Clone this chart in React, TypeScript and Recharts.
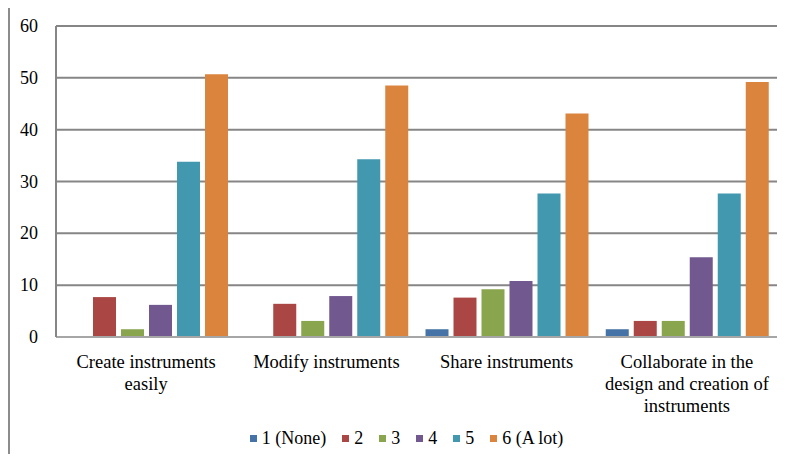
import React from 'react';
import {
  BarChart,
  Bar,
  XAxis,
  YAxis,
  CartesianGrid,
  Legend,
} from 'recharts';

const categories = [
  'Create instruments easily',
  'Modify instruments',
  'Share instruments',
  'Collaborate in the design and creation of instruments',
];

// how each category label wraps under the axis
const categoryLines = [
  ['Create instruments', 'easily'],
  ['Modify instruments'],
  ['Share instruments'],
  ['Collaborate in the', 'design and creation of', 'instruments'],
];

const seriesNames = ['1 (None)', '2', '3', '4', '5', '6 (A lot)'];
const seriesColors = ['#4572A7', '#AA4643', '#89A54E', '#71588F', '#4198AF', '#DB843D'];

const none1 = [0, 0, 1.5, 1.5];
const val2 = [7.7, 6.4, 7.6, 3.1];
const val3 = [1.5, 3.1, 9.2, 3.1];
const val4 = [6.2, 7.9, 10.8, 15.4];
const val5 = [33.8, 34.3, 27.7, 27.7];
const alot6 = [50.7, 48.5, 43.1, 49.2];

const yTicks = [0, 10, 20, 30, 40, 50, 60];

const seriesValues = [none1, val2, val3, val4, val5, alot6];

const data = categories.map((name, i) => {
  const row: Record<string, string | number> = { name };
  seriesNames.forEach((s, k) => {
    row[s] = seriesValues[k][i];
  });
  return row;
});

const FONT = 'Liberation Serif';

function CategoryTick(props: any) {
  const { x, y, payload } = props;
  const idx = categories.indexOf(payload.value);
  const lines = idx >= 0 ? categoryLines[idx] : [payload.value];
  return (
    <text x={x} y={y} textAnchor="middle" fontFamily={FONT} fontSize={18.5} fill="#000">
      {lines.map((l: string, i: number) => (
        <tspan key={i} x={x} dy={i === 0 ? 23 : 22}>
          {l}
        </tspan>
      ))}
    </text>
  );
}

function ValueTick(props: any) {
  const { x, y, payload } = props;
  return (
    <text x={x} y={y} dy={6} textAnchor="end" fontFamily={FONT} fontSize={18} fill="#000">
      {payload.value}
    </text>
  );
}

function LegendRow() {
  return (
    <div
      style={{
        display: 'flex',
        justifyContent: 'center',
        alignItems: 'center',
        fontFamily: FONT,
        fontSize: 18,
        color: '#000',
      }}
    >
      {seriesNames.map((s, k) => (
        <span
          key={s}
          style={{
            display: 'inline-flex',
            alignItems: 'center',
            marginRight: k === seriesNames.length - 1 ? 0 : 16,
          }}
        >
          <span
            style={{
              display: 'inline-block',
              width: 7,
              height: 7,
              background: seriesColors[k],
              marginRight: 5,
            }}
          />
          {s}
        </span>
      ))}
    </div>
  );
}

export default function App() {
  return (
    <div
      style={{
        margin: -8,
        width: 785,
        height: 462,
        position: 'relative',
        overflow: 'hidden',
        background: '#fff',
        fontFamily: FONT,
      }}
    >
      <div
        style={{
          position: 'absolute',
          left: 8,
          top: 5,
          width: 800,
          height: 500,
          border: '2px solid #8c8c8c',
          boxSizing: 'border-box',
        }}
      />
      <div style={{ position: 'absolute', left: 0, top: 0 }}>
        <BarChart
          width={785}
          height={462}
          data={data}
          margin={{ top: 26, right: 8, bottom: 0, left: 0 }}
          barCategoryGap={9}
          barGap={5}
        >
          <CartesianGrid vertical={false} stroke="#868686" strokeWidth={2} />
          <XAxis
            dataKey="name"
            tickLine={false}
            axisLine={{ stroke: '#a6a6a6', strokeWidth: 2 }}
            height={100}
            interval={0}
            tick={<CategoryTick />}
          />
          <YAxis
            width={56}
            domain={[0, 60]}
            ticks={yTicks}
            tickLine={false}
            axisLine={{ stroke: '#868686', strokeWidth: 2 }}
            tickMargin={12}
            tick={<ValueTick />}
            interval={0}
          />
          <Legend
            verticalAlign="bottom"
            height={25}
            wrapperStyle={{ left: 18, bottom: 9 }}
            content={<LegendRow />}
          />
          {seriesNames.map((s, k) => (
            <Bar key={s} dataKey={s} fill={seriesColors[k]} isAnimationActive={false} />
          ))}
        </BarChart>
      </div>
    </div>
  );
}
